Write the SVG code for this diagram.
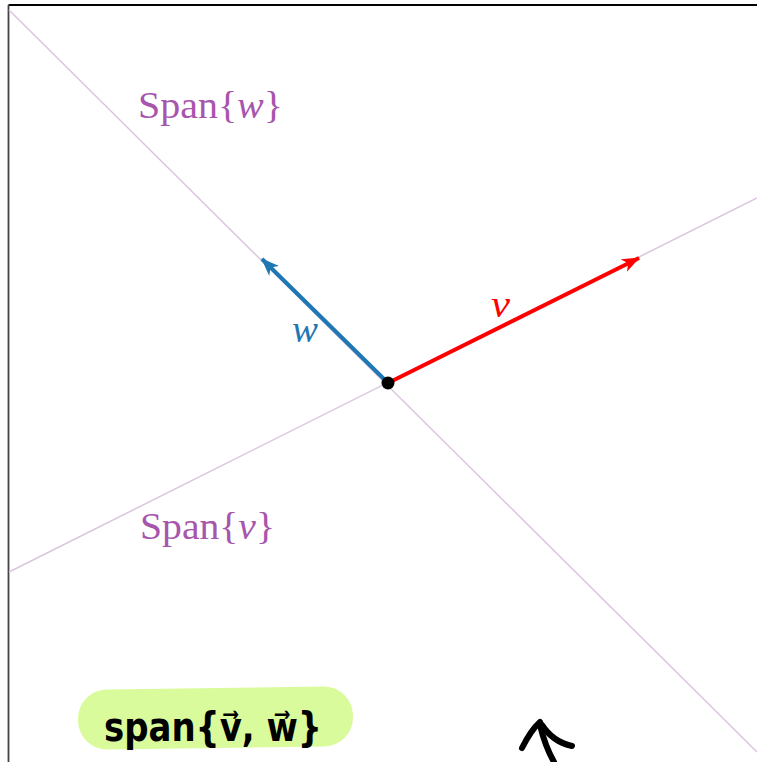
<svg xmlns="http://www.w3.org/2000/svg" width="757" height="762" viewBox="0 0 757 762">
<style>
.span{stroke:#dcc4e0;stroke-width:1.5;fill:none}
.lbl{font-family:"Liberation Serif","DejaVu Serif",serif;font-size:37px}
.spanlbl{fill:#a855ad}
.hand{font-family:"DejaVu Sans","Noto Sans",sans-serif;font-weight:bold;font-size:40px;fill:#000}
</style>
<defs>
<marker id="headR" markerWidth="18" markerHeight="14" refX="17" refY="7" orient="auto" markerUnits="userSpaceOnUse" viewBox="0 0 18 14">
<path d="M0,0 L18,7 L0,14 L5,7 Z" fill="#ff0000"/>
</marker>
<marker id="headB" markerWidth="18" markerHeight="14" refX="17" refY="7" orient="auto" markerUnits="userSpaceOnUse" viewBox="0 0 18 14">
<path d="M0,0 L18,7 L0,14 L5,7 Z" fill="#1f77b4"/>
</marker>
</defs>
<rect width="757" height="762" fill="#ffffff"/>
<g id="frame">
<line x1="8.5" y1="5" x2="757" y2="5" stroke="#000" stroke-width="2"/>
<line x1="8.5" y1="5" x2="8.5" y2="762" stroke="#444" stroke-width="1.8"/>
</g>
<g id="connectors">
<line class="span" x1="9" y1="10" x2="757" y2="752"/>
<line class="span" x1="9" y1="572" x2="757" y2="198"/>
<line x1="388" y1="383" x2="639" y2="258" stroke="#ff0000" stroke-width="4" marker-end="url(#headR)"/>
<line x1="388" y1="383" x2="262" y2="259" stroke="#1f77b4" stroke-width="4" marker-end="url(#headB)"/>
</g>
<g id="origin"><circle cx="388" cy="383" r="6.5" fill="#000"/></g>
<g id="label-span-w"><text class="lbl spanlbl" x="138" y="118" textLength="145" lengthAdjust="spacingAndGlyphs">Span{<tspan font-style="italic">w</tspan>}</text></g>
<g id="label-span-v"><text class="lbl spanlbl" x="140" y="539" textLength="135" lengthAdjust="spacingAndGlyphs">Span{<tspan font-style="italic">v</tspan>}</text></g>
<g id="label-w"><text class="lbl" x="292" y="342" fill="#1f77b4" font-style="italic" textLength="26" lengthAdjust="spacingAndGlyphs">w</text></g>
<g id="label-v"><text class="lbl" x="491" y="317" fill="#ff0000" font-style="italic" textLength="19" lengthAdjust="spacingAndGlyphs">v</text></g>
<g id="note">
<rect x="78" y="688" width="275" height="60" rx="29" fill="#dafb9c" transform="rotate(-0.8 215 718)"/>
<text class="hand" x="104" y="741" textLength="218" lengthAdjust="spacingAndGlyphs">span{v⃗, w⃗}</text>
</g>
<g id="hand-arrow" fill="none" stroke="#000" stroke-width="6" stroke-linecap="round" stroke-linejoin="round">
<path d="M522,748 Q531,730 540,722"/>
<path d="M542,725 Q553,742 572,746"/>
<path d="M540,725 Q545,746 554,762"/>
</g>
</svg>
